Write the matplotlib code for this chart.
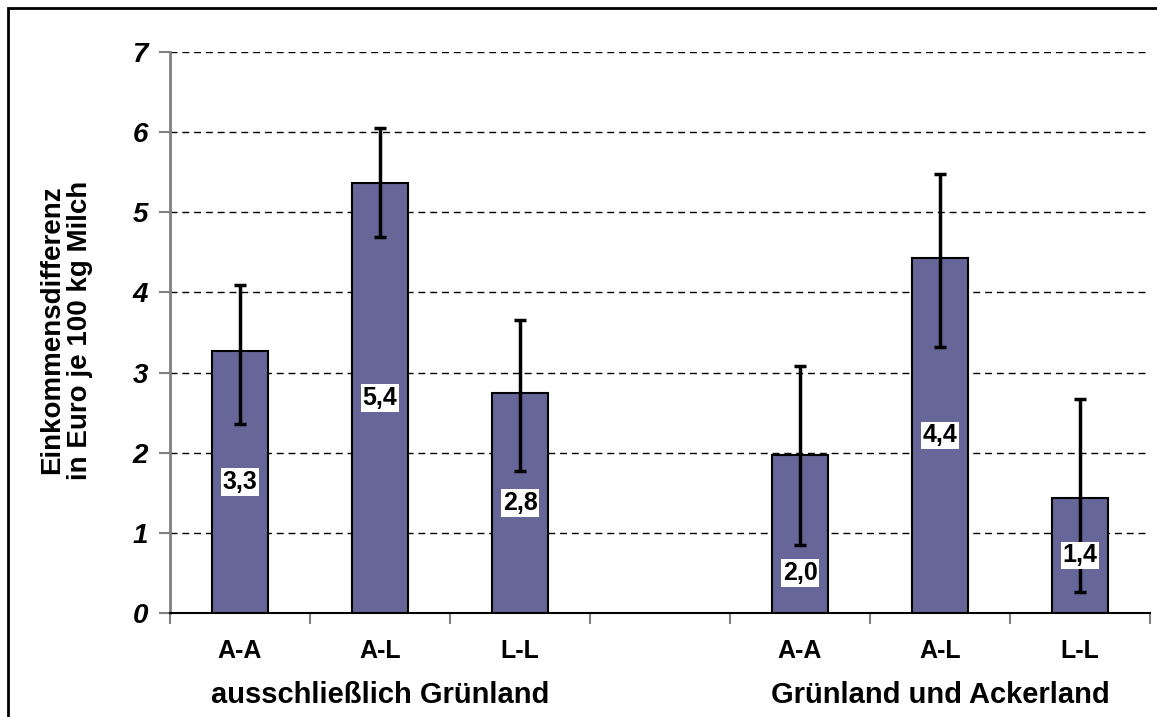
import matplotlib
matplotlib.use("Agg")
import matplotlib.pyplot as plt
from matplotlib.patches import Rectangle

plt.rcParams['font.family'] = ['Liberation Sans', 'DejaVu Sans']

categories = ["A-A", "A-L", "L-L", "", "A-A", "A-L", "L-L"]
groups = ["ausschließlich Grünland", "Grünland und Ackerland"]
values = [3.27, 5.36, 2.75, None, 1.97, 4.43, 1.44]
err_hi = [4.09, 6.05, 3.65, None, 3.08, 5.48, 2.67]
err_lo = [2.36, 4.69, 1.77, None, 0.85, 3.32, 0.26]
labels = ["3,3", "5,4", "2,8", "", "2,0", "4,4", "1,4"]
label_pos = [None, None, None, None, 0.5, None, None]  # None -> middle of bar
yticks = [0, 1, 2, 3, 4, 5, 6, 7]

W, H = 1157, 717
fig = plt.figure(figsize=(W / 100, H / 100), dpi=100)
ax = fig.add_axes([170 / W, 1 - 613 / H, (1150 - 170) / W, (613 - 52) / H])

xs = [i for i, v in enumerate(values) if v is not None]
vals = [values[i] for i in xs]
ax.bar(xs, vals, width=0.4, color="#666699", edgecolor="black", linewidth=1.5, zorder=3)

yerr_lo = [values[i] - err_lo[i] for i in xs]
yerr_hi = [err_hi[i] - values[i] for i in xs]
ax.errorbar(xs, vals, yerr=[yerr_lo, yerr_hi], fmt="none", ecolor="black",
            elinewidth=2.5, capsize=4, capthick=2.5, zorder=4)

for i in xs:
    y = label_pos[i] if label_pos[i] is not None else values[i] / 2
    ax.text(i, y, labels[i], ha="center", va="center", fontsize=18, fontweight="bold",
            zorder=5, bbox=dict(facecolor="white", edgecolor="none", pad=1.2))

ax.set_xlim(-0.5, len(categories) - 0.5)
ax.set_ylim(0, 7)
ax.set_yticks(yticks)
ax.set_yticklabels([str(t) for t in yticks], fontsize=20, fontweight="bold", fontstyle="italic")
ax.tick_params(axis="y", length=8, color="#808080", width=1.5, pad=8)

ax.set_xticks([i - 0.5 for i in range(len(categories) + 1)])
ax.set_xticklabels([])
ax.tick_params(axis="x", length=8, color="#808080", width=1.5)
for i, c in enumerate(categories):
    if c:
        ax.text(i, -0.48, c, ha="center", va="center", fontsize=18, fontweight="bold",
                clip_on=False)
for g, center in zip(groups, [1, 5]):
    ax.text(center, -1.02, g, ha="center", va="center", fontsize=21, fontweight="bold",
            clip_on=False)

ax.grid(axis="y", color="black", linestyle=(0, (5, 3.5)), linewidth=1)
ax.set_axisbelow(True)
for s in ["top", "right"]:
    ax.spines[s].set_visible(False)
ax.spines["left"].set_color("#808080")
ax.spines["left"].set_linewidth(2)
ax.spines["bottom"].set_color("black")
ax.spines["bottom"].set_linewidth(1.5)

fig.text(52 / W, 1 - 330 / H, "Einkommensdifferenz", rotation=90, ha="center", va="center",
         fontsize=20, fontweight="bold")
fig.text(80 / W, 1 - 330 / H, "in Euro je 100 kg Milch", rotation=90, ha="center", va="center",
         fontsize=20, fontweight="bold")

fig.patches.append(Rectangle((8 / W, -0.1), 1.2, 1 - 8 / H + 0.1, transform=fig.transFigure,
                             fill=False, edgecolor="black", linewidth=2))

fig.savefig("out.png", dpi=100)
